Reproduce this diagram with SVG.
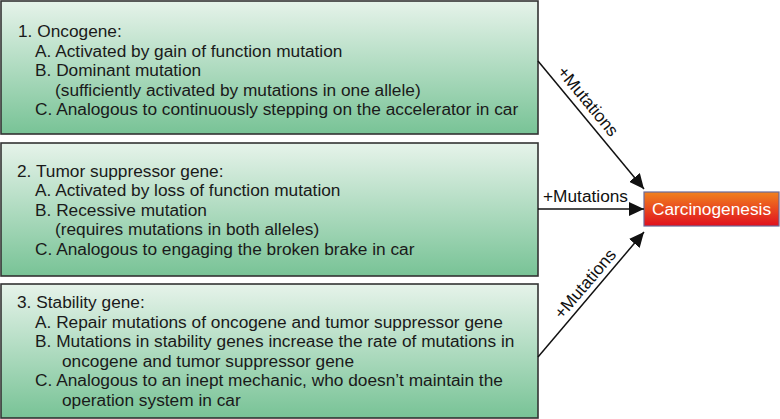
<svg xmlns="http://www.w3.org/2000/svg" width="780" height="419" viewBox="0 0 780 419">
<defs>
<linearGradient id="gbox" x1="0" y1="0" x2="0" y2="1">
<stop offset="0" stop-color="#e6f3ea"/>
<stop offset="1" stop-color="#78c396"/>
</linearGradient>
<linearGradient id="gred" x1="0" y1="0" x2="0" y2="1">
<stop offset="0" stop-color="#f1821e"/>
<stop offset="1" stop-color="#e0101f"/>
</linearGradient>
<marker id="ah" markerUnits="userSpaceOnUse" markerWidth="16" markerHeight="14" refX="15" refY="7" orient="auto">
<path d="M0,0 L15,7 L0,14 Z" fill="#111"/>
</marker>
<style>
.box{fill:url(#gbox);stroke:#333;stroke-width:1.6}
.t{font-family:"Liberation Sans",Arial,sans-serif;font-size:17.3px;fill:#1a1a1a}
.lbl{font-family:"Liberation Sans",Arial,sans-serif;font-size:17.3px;fill:#111}
.con{stroke:#111;stroke-width:1.5;fill:none;marker-end:url(#ah)}
</style>
</defs>
<rect width="780" height="419" fill="#fff"/>
<g id="oncogene">
<rect class="box" x="1" y="1" width="537" height="133"/>
<text class="t" x="18" y="37">1. Oncogene:</text>
<text class="t" x="35" y="56.5">A. Activated by gain of function mutation</text>
<text class="t" x="35" y="76">B. Dominant mutation</text>
<text class="t" x="55" y="95.5">(sufficiently activated by mutations in one allele)</text>
<text class="t" x="35" y="115">C. Analogous to continuously stepping on the accelerator in car</text>
</g>
<g id="tumor-suppressor">
<rect class="box" x="1" y="143" width="537" height="133"/>
<text class="t" x="17" y="176.5">2. Tumor suppressor gene:</text>
<text class="t" x="35" y="196">A. Activated by loss of function mutation</text>
<text class="t" x="35" y="215.5">B. Recessive mutation</text>
<text class="t" x="55" y="235">(requires mutations in both alleles)</text>
<text class="t" x="35" y="254.5">C. Analogous to engaging the broken brake in car</text>
</g>
<g id="stability">
<rect class="box" x="1" y="284" width="537" height="134"/>
<text class="t" x="17" y="308">3. Stability gene:</text>
<text class="t" x="35" y="327.5">A. Repair mutations of oncogene and tumor suppressor gene</text>
<text class="t" x="35" y="347">B. Mutations in stability genes increase the rate of mutations in</text>
<text class="t" x="62" y="366.5">oncogene and tumor suppressor gene</text>
<text class="t" x="35" y="386">C. Analogous to an inept mechanic, who doesn’t maintain the</text>
<text class="t" x="62" y="405.5">operation system in car</text>
</g>
<g id="carcinogenesis">
<rect x="644" y="192" width="135" height="34" fill="url(#gred)" stroke="#6a6a9a" stroke-width="1.2"/>
<text x="711.5" y="215" text-anchor="middle" style="font-family:'Liberation Sans',Arial,sans-serif;font-size:17.3px;fill:#fff">Carcinogenesis</text>
</g>
<g id="connectors">
<line class="con" x1="538" y1="61" x2="644" y2="189"/>
<line class="con" x1="538" y1="209" x2="644" y2="209"/>
<line class="con" x1="538" y1="357" x2="644" y2="232"/>
<text class="lbl" text-anchor="middle" transform="translate(583.5,105) rotate(50.4)">+Mutations</text>
<text class="lbl" x="585.5" y="201.5" text-anchor="middle">+Mutations</text>
<text class="lbl" text-anchor="middle" transform="translate(589.5,287.5) rotate(-49.7)">+Mutations</text>
</g>
</svg>
